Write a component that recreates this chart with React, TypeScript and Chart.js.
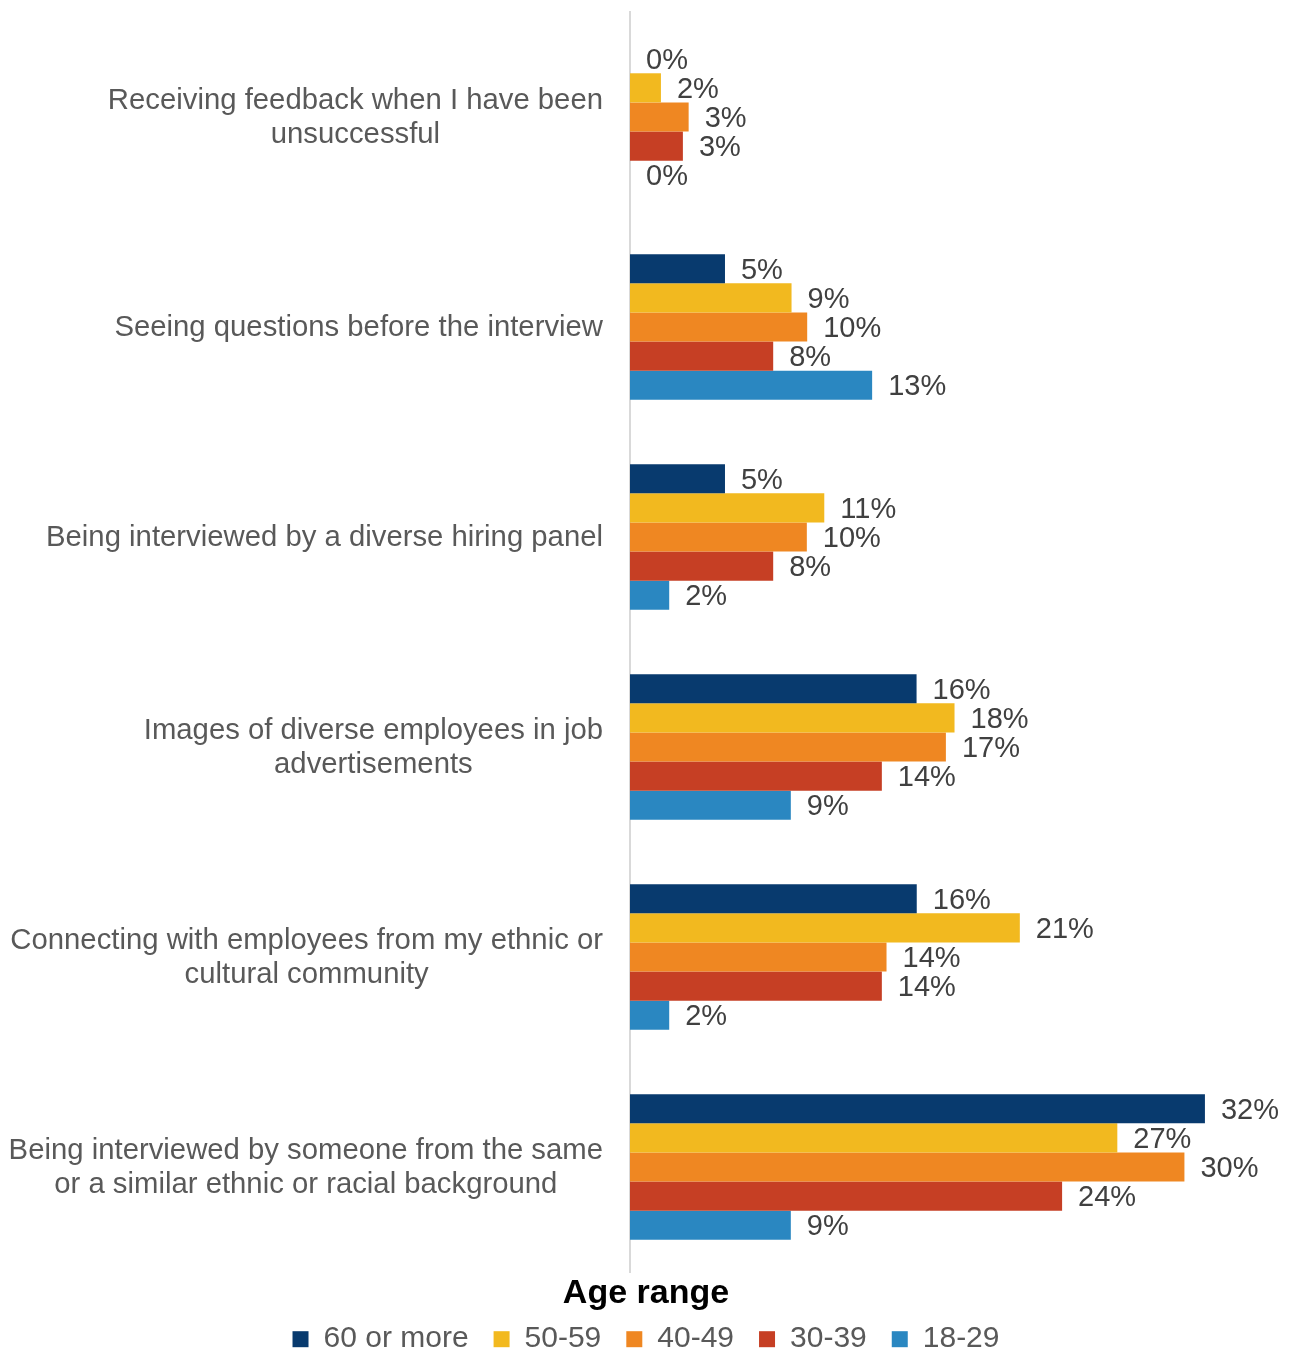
import React, { useEffect, useRef } from "react";
import { Chart, registerables } from "chart.js";

Chart.register(...registerables);

const FONT = "'Liberation Sans', Arial, Helvetica, sans-serif";

const categories: string[][] = [
  ["Receiving feedback when I have been", "unsuccessful"],
  ["Seeing questions before the interview"],
  ["Being interviewed by a diverse hiring panel"],
  ["Images of diverse employees in job", "advertisements"],
  ["Connecting with employees from my ethnic or", "cultural community"],
  ["Being interviewed by someone from the same", "or a similar ethnic or racial background"],
];

const seriesNames = ["60 or more", "50-59", "40-49", "30-39", "18-29"];
const seriesColors = ["#083A6E", "#F2B91F", "#EF8722", "#C63F24", "#2A87C1"];

const values60plus = [0, 5.28, 5.28, 15.93, 15.94, 31.96];
const values50to59 = [1.72, 8.98, 10.8, 18.04, 21.67, 27.09];
const values40to49 = [3.26, 9.85, 9.83, 17.56, 14.26, 30.82];
const values30to39 = [2.94, 7.96, 7.96, 14.0, 14.0, 24.02];
const values18to29 = [0, 13.46, 2.18, 8.94, 2.18, 8.94];

const labels60plus = ["0%", "5%", "5%", "16%", "16%", "32%"];
const labels50to59 = ["2%", "9%", "11%", "18%", "21%", "27%"];
const labels40to49 = ["3%", "10%", "10%", "17%", "14%", "30%"];
const labels30to39 = ["3%", "8%", "8%", "14%", "14%", "24%"];
const labels18to29 = ["0%", "13%", "2%", "9%", "2%", "9%"];

const seriesValues = [values60plus, values50to59, values40to49, values30to39, values18to29];
const seriesLabels = [labels60plus, labels50to59, labels40to49, labels30to39, labels18to29];

const legendTitle = "Age range";

const valueLabelPlugin = {
  id: "valueLabels",
  afterDatasetsDraw(chart: any) {
    const ctx = chart.ctx;
    ctx.save();
    ctx.font = `29px ${FONT}`;
    ctx.fillStyle = "#404040";
    ctx.textAlign = "left";
    ctx.textBaseline = "middle";
    chart.data.datasets.forEach((ds: any, di: number) => {
      const meta = chart.getDatasetMeta(di);
      meta.data.forEach((bar: any, i: number) => {
        const txt = seriesLabels[di][i];
        ctx.fillText(txt, bar.x + 16, bar.y + 2);
      });
    });
    ctx.restore();
  },
};

const categoryLabelPlugin = {
  id: "categoryLabels",
  afterDraw(chart: any) {
    const ctx = chart.ctx;
    const yScale = chart.scales.y;
    const rightEdge = chart.chartArea.left - 27;
    const lineH = 34;
    ctx.save();
    ctx.font = `29.3px ${FONT}`;
    ctx.fillStyle = "#595959";
    ctx.textAlign = "center";
    ctx.textBaseline = "middle";
    categories.forEach((lines, i) => {
      const y = yScale.getPixelForValue(i) + 1;
      const widest = Math.max(...lines.map((l) => ctx.measureText(l).width));
      const cx = rightEdge - widest / 2;
      const startY = y - ((lines.length - 1) * lineH) / 2;
      lines.forEach((l, li) => ctx.fillText(l, cx, startY + li * lineH));
    });
    ctx.restore();
  },
};

export default function App() {
  const canvasRef = useRef<HTMLCanvasElement | null>(null);

  useEffect(() => {
    document.body.style.margin = "0";
    const canvas = canvasRef.current;
    if (!canvas) return;
    const chart = new Chart(canvas, {
      type: "bar",
      data: {
        labels: categories.map((c) => c.join(" ")),
        datasets: seriesNames.map((name, i) => ({
          label: name,
          data: seriesValues[i],
          backgroundColor: seriesColors[i],
          borderWidth: 0,
          categoryPercentage: 0.694,
          barPercentage: 1.0,
        })),
      },
      options: {
        indexAxis: "y",
        animation: false,
        responsive: false,
        devicePixelRatio: 1,
        layout: { padding: { top: 12, left: 0, right: 0, bottom: 0 } },
        scales: {
          x: {
            display: false,
            min: 0,
            max: 36.8,
          },
          y: {
            display: true,
            afterFit(scale: any) {
              scale.width = 630;
            },
            ticks: { display: false },
            grid: { display: false, drawTicks: false },
            border: { display: true, color: "#D9D9D9", width: 2 },
          },
        },
        plugins: {
          legend: {
            display: true,
            position: "bottom",
            maxHeight: 81,
            labels: {
              boxWidth: 16,
              boxHeight: 16,
              padding: 25,
              color: "#595959",
              font: { size: 30, family: FONT },
            },
            title: {
              display: true,
              text: legendTitle,
              color: "#000000",
              font: { size: 34, weight: "bold", family: FONT, lineHeight: 0.8 },
              padding: { top: 5, bottom: -5 },
            },
          },
          tooltip: { enabled: false },
        },
      },
      plugins: [valueLabelPlugin, categoryLabelPlugin],
    } as any);
    return () => chart.destroy();
  }, []);

  return (
    <div style={{ width: 1292, height: 1353 }}>
      <canvas ref={canvasRef} width={1292} height={1353} style={{ display: "block" }} />
    </div>
  );
}
